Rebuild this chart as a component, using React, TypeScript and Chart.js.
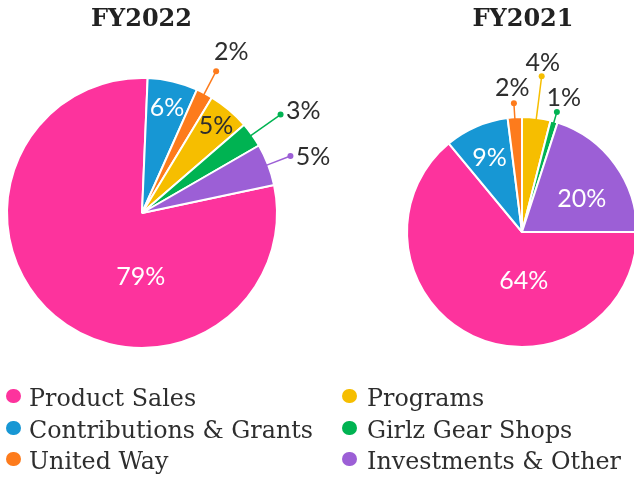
import React, { useEffect, useRef } from 'react';
import { Chart, registerables } from 'chart.js';

Chart.register(...registerables);

// ---- data ----
const categories = [
  'Product Sales',
  'Contributions & Grants',
  'United Way',
  'Programs',
  'Girlz Gear Shops',
  'Investments & Other',
];
const fy2022Values = [79, 6, 2, 5, 3, 5];
const fy2021Values = [64, 9, 2, 4, 1, 20];
const chartTitles = ['FY2022', 'FY2021'];
const sliceColors = ['#fd339d', '#1797d4', '#fd7b1c', '#f6be00', '#00b352', '#9c5fd6'];

// ---- label styling (placement only) ----
type LabelCfg = { out?: number; f?: number; angle?: number; dark?: boolean; nudge?: [number, number] };
const labels2022: LabelCfg[] = [
  { f: 0.47, angle: 181 },
  { f: 0.81 },
  { out: 25, nudge: [4, -6] },
  { f: 0.85, dark: true },
  { out: 35, nudge: [3, 5] },
  { out: 24, nudge: [0, 6] },
];
const labels2021: LabelCfg[] = [
  { f: 0.42, angle: 178 },
  { f: 0.71 },
  { out: 14 },
  { out: 42, nudge: [-2, 2] },
  { out: 10 },
  { f: 0.6, angle: 60 },
];

const LABEL_FONT = 'Lato, "DejaVu Sans", sans-serif';
const LABEL_SIZE = 25;
const TEXT_DARK = '#2e2e2e';

function makeLabelPlugin(items: LabelCfg[]) {
  return {
    id: 'pctLabels',
    afterDatasetsDraw(chart: any) {
      const meta = chart.getDatasetMeta(0);
      const values = chart.data.datasets[0].data;
      const ctx = chart.ctx;
      ctx.save();
      ctx.font = `${LABEL_SIZE}px ${LABEL_FONT}`;
      ctx.textAlign = 'center';
      ctx.textBaseline = 'alphabetic';
      const capH = LABEL_SIZE * 0.72;
      meta.data.forEach((arc: any, i: number) => {
        const p = arc.getProps(['x', 'y', 'startAngle', 'endAngle', 'outerRadius'], true);
        const lc = items[i];
        const text = values[i] + '%';
        const w = ctx.measureText(text).width;
        const color = sliceColors[i];
        const [nx, ny] = lc.nudge ?? [0, 0];
        if (lc.out != null) {
          const mid = (p.startAngle + p.endAngle) / 2;
          const ux = Math.cos(mid);
          const uy = Math.sin(mid);
          const r0 = p.outerRadius - 2;
          const r1 = p.outerRadius + lc.out;
          ctx.strokeStyle = color;
          ctx.lineWidth = 1.5;
          ctx.beginPath();
          ctx.moveTo(p.x + ux * r0, p.y + uy * r0);
          ctx.lineTo(p.x + ux * r1, p.y + uy * r1);
          ctx.stroke();
          ctx.fillStyle = color;
          ctx.beginPath();
          ctx.arc(p.x + ux * r1, p.y + uy * r1, 3, 0, Math.PI * 2);
          ctx.fill();
          const g = 7;
          const cx = p.x + ux * (r1 + g) + (ux * w) / 2 + nx;
          const cy = p.y + uy * (r1 + g) + (uy * capH) / 2 + ny;
          ctx.fillStyle = TEXT_DARK;
          ctx.fillText(text, cx, cy + capH / 2);
        } else {
          const ang =
            lc.angle != null ? (lc.angle * Math.PI) / 180 - Math.PI / 2 : (p.startAngle + p.endAngle) / 2;
          const r = (lc.f ?? 0.6) * p.outerRadius;
          const cx = p.x + Math.cos(ang) * r + nx;
          const cy = p.y + Math.sin(ang) * r + ny;
          ctx.fillStyle = lc.dark ? TEXT_DARK : '#ffffff';
          ctx.fillText(text, cx, cy + capH / 2);
        }
      });
      ctx.restore();
    },
  };
}

const CANVAS = 400;

function Pie(props: {
  values: number[];
  rotation: number;
  radius: number;
  cx: number;
  cy: number;
  items: LabelCfg[];
}) {
  const ref = useRef<HTMLCanvasElement>(null);
  useEffect(() => {
    if (!ref.current) return;
    const chart = new Chart(ref.current, {
      type: 'pie',
      data: {
        labels: categories,
        datasets: [
          {
            data: props.values,
            backgroundColor: sliceColors,
            borderColor: '#ffffff',
            borderWidth: 2,
          },
        ],
      },
      options: {
        responsive: false,
        maintainAspectRatio: false,
        animation: false,
        rotation: props.rotation,
        radius: props.radius,
        layout: { padding: 0 },
        plugins: {
          legend: { display: false },
          tooltip: { enabled: false },
          title: { display: false },
        },
      } as any,
      plugins: [makeLabelPlugin(props.items)],
    });
    return () => chart.destroy();
  }, []);
  return (
    <canvas
      ref={ref}
      width={CANVAS}
      height={CANVAS}
      style={{
        position: 'absolute',
        left: props.cx - CANVAS / 2,
        top: props.cy - CANVAS / 2,
        width: CANVAS,
        height: CANVAS,
      }}
    />
  );
}

const titleStyle = (cx: number): React.CSSProperties => ({
  position: 'absolute',
  left: cx - 100,
  width: 200,
  top: 6.4,
  textAlign: 'center',
  font: 'bold 24px/24px "DejaVu Serif", serif',
  color: '#222',
  zIndex: 2,
});

export default function App() {
  const legendCols = [
    { dot: 13.5, text: 29 },
    { dot: 349.3, text: 367 },
  ];
  const rowBaselines = [407.3, 439.3, 470.5];
  const legendSize = 23.8;
  return (
    <div
      style={{
        position: 'fixed',
        left: 0,
        top: 0,
        width: 634,
        height: 478,
        overflow: 'hidden',
        background: '#fff',
      }}
    >
      <Pie values={fy2022Values} rotation={78} radius={135} cx={142.3} cy={212.8} items={labels2022} />
      <Pie values={fy2021Values} rotation={90} radius={115} cx={521.7} cy={231.5} items={labels2021} />
      <div style={titleStyle(141.5)}>{chartTitles[0]}</div>
      <div style={titleStyle(523)}>{chartTitles[1]}</div>
      {categories.map((c, i) => {
        const col = legendCols[Math.floor(i / 3)];
        const base = rowBaselines[i % 3];
        return (
          <React.Fragment key={c}>
            <div
              style={{
                position: 'absolute',
                left: col.dot - 7.3,
                top: base - 11.5 - 7.3,
                width: 14.6,
                height: 14.6,
                borderRadius: '50%',
                background: sliceColors[i],
              }}
            />
            <div
              style={{
                position: 'absolute',
                left: col.text,
                top: base - 0.846 * legendSize,
                font: `${legendSize}px/${legendSize}px "DejaVu Serif", serif`,
                color: TEXT_DARK,
                whiteSpace: 'nowrap',
              }}
            >
              {c}
            </div>
          </React.Fragment>
        );
      })}
    </div>
  );
}
